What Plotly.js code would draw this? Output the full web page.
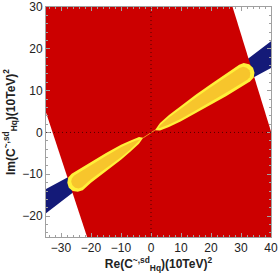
<!DOCTYPE html>
<html><head><meta charset="utf-8">
<script src="https://cdn.plot.ly/plotly-3.0.1.min.js"></script>
<style>html,body{margin:0;padding:0;background:#fff;}#chart{width:278px;height:278px;}</style>
</head><body><div id="chart"></div>
<script>
// Allowed region boundaries (data units)
const redX = [-35, 27.2, 40, 40, -21.3, -35];
const redY = [30, 30, 0.2, -25, -25, 4.8];

const blueX = [0, 40, 40, 0, -35, -35, 0];
const blueY = [0, 21.8, 15.4, 0, -13.5, -19.3, 0];

// Upper-right yellow region (outer) and its inner core
const upOuterX = [1.3, 3, 6, 10, 15, 20, 25, 29.4, 30.9, 32.7, 34.0, 34.5, 34.2, 33.0, 25, 20, 15, 10, 6, 3, 1.3];
const upOuterY = [0.55, 2.27, 4.18, 6.45, 9.08, 11.6, 14.08, 16.2, 16.6, 16.3, 15.5, 14.3, 13.1, 12.2, 8.68, 6.6, 4.58, 2.65, 1.28, 0.47, 0.55];
const upInnerX = [2.5, 3, 6, 10, 15, 20, 25, 29.5, 30.7, 31.9, 32.8, 33.1, 32.9, 32.1, 25, 20, 15, 10, 6, 3, 2.5];
const upInnerY = [1.14, 1.665, 3.58, 5.8, 8.38, 10.85, 13.28, 15.4, 15.7, 15.5, 14.9, 14.1, 13.2, 12.6, 9.48, 7.35, 5.28, 3.3, 1.88, 1.065, 1.14];

// Lower-left yellow region (outer) and inner core
const loOuterX = [-2.6, -4, -7, -10, -15, -20, -26.45, -27.6, -27.9, -27.4, -26.1, -24.4, -22.75, -20, -15, -10, -7, -4, -2.6];
const loOuterY = [-1.24, -1.1, -1.975, -2.95, -4.925, -7.0, -9.88, -10.8, -12.0, -13.2, -14.0, -14.2, -13.8, -12.0, -9.325, -6.55, -4.675, -2.7, -1.24];
const loInnerX = [-3.5, -5, -7, -10, -15, -20, -25.6, -26.4, -26.6, -26.2, -25.3, -24.15, -23.0, -20, -15, -10, -7, -5, -3.5];
const loInnerY = [-1.66, -1.925, -2.525, -3.55, -5.625, -7.8, -10.3, -11.0, -11.8, -12.6, -13.2, -13.4, -13.1, -11.2, -8.625, -5.95, -4.125, -2.825, -1.66];

// thin sliver joining the two regions across the origin
const midX = [-2.6, 0, 1.3, 1.3, 0, -2.6];
const midY = [-1.2, 0.08, 0.62, 0.48, -0.12, -1.36];

const xTicks = [-30, -20, -10, 0, 10, 20, 30, 40];
const yTicks = [-20, -10, 0, 10, 20, 30];

function poly(x, y, color) {
  return {x: x, y: y, type: 'scatter', mode: 'lines', fill: 'toself',
          fillcolor: color, line: {width: 0, color: color}, hoverinfo: 'skip', showlegend: false};
}

const traces = [
  poly(blueX, blueY, '#141a78'),
  poly(redX, redY, '#cc0000'),
  poly(midX, midY, '#f7c52c'),
  poly(upOuterX, upOuterY, '#fff03a'),
  poly(upInnerX, upInnerY, '#f7c52c'),
  poly(loOuterX, loOuterY, '#fff03a'),
  poly(loInnerX, loInnerY, '#f7c52c')
];

const axisCommon = {
  showgrid: false, zeroline: false, showline: true, linecolor: '#a0a0a0', linewidth: 1,
  mirror: 'allticks', ticks: 'inside', ticklen: 4, tickcolor: '#a0a0a0', tickwidth: 1,
  tickfont: {family: 'Liberation Sans, Arial, sans-serif', size: 12, color: '#222'},
  minor: {ticks: 'inside', ticklen: 2, dtick: 2, tickcolor: '#a0a0a0', showgrid: false},
  fixedrange: true
};

const layout = {
  width: 278, height: 278,
  margin: {l: 46, r: 7, t: 7, b: 41},
  paper_bgcolor: '#fff', plot_bgcolor: '#fff',
  xaxis: Object.assign({}, axisCommon, {
    range: [-35, 40], tickvals: xTicks, ticktext: xTicks.map(v => v < 0 ? '\u2212' + (-v) : String(v)),
    title: {text: '<b>Re(C<sup>~,sd</sup><sub>Hq</sub>)(10TeV)<sup>2</sup></b>', standoff: 4,
            font: {family: 'Liberation Sans, Arial, sans-serif', size: 12, color: '#222'}}
  }),
  yaxis: Object.assign({}, axisCommon, {
    range: [-25, 30], tickvals: yTicks, ticktext: yTicks.map(v => v < 0 ? '\u2212' + (-v) : String(v)),
    title: {text: '<b>Im(C<sup>~,sd</sup><sub>Hq</sub>)(10TeV)<sup>2</sup></b>', standoff: 4,
            font: {family: 'Liberation Sans, Arial, sans-serif', size: 12, color: '#222'}}
  }),
  shapes: [
    {type: 'line', xref: 'x', yref: 'y', x0: 0, x1: 0, y0: -25, y1: 30, layer: 'above',
     line: {color: 'rgba(40,0,0,0.75)', width: 1, dash: '1px,3px'}},
    {type: 'line', xref: 'x', yref: 'y', x0: -35, x1: 40, y0: 0, y1: 0, layer: 'above',
     line: {color: 'rgba(40,0,0,0.75)', width: 1, dash: '1px,3px'}}
  ]
};

Plotly.newPlot('chart', traces, layout, {displayModeBar: false, staticPlot: true});
</script>
</body></html>
